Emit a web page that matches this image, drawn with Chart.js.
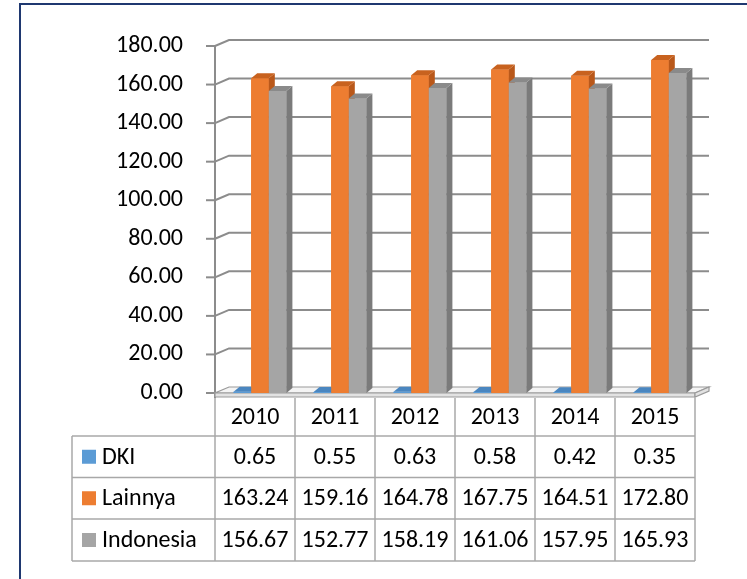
<!DOCTYPE html>
<html lang="id">
<head>
<meta charset="UTF-8">
<title>DKI, Lainnya, Indonesia 2010-2015</title>
<script src="https://cdn.jsdelivr.net/npm/chart.js"></script>
<style>
  html, body { margin: 0; padding: 0; background: #fff; }
  #wrap { position: relative; width: 747px; height: 579px; overflow: hidden; }
  #frame { position: absolute; left: 19px; top: 3px; width: 760px; height: 600px;
           border-top: 2px solid #1f3870; border-left: 2px solid #1f3870; }
  canvas { position: absolute; left: 0; top: 0; }
</style>
</head>
<body>
<div id="wrap">
  <div id="frame"></div>
  <canvas id="myChart" width="747" height="579"></canvas>
</div>

<script>
// data
const tahun = ['2010', '2011', '2012', '2013', '2014', '2015'];
const dki = [0.65, 0.55, 0.63, 0.58, 0.42, 0.35];
const lainnya = [163.24, 159.16, 164.78, 167.75, 164.51, 172.80];
const indonesia = [156.67, 152.77, 158.19, 161.06, 157.95, 165.93];
const namaSeri = ['DKI', 'Lainnya', 'Indonesia'];

const warna = ['#5B9BD5', '#ED7D31', '#A5A5A5'];
const warnaSisi = ['#3E77AD', '#B9581A', '#7B7B7B'];
const warnaAtas = ['#4A86C0', '#C8621F', '#8A8A8A'];

const FONT = "'Carlito', 'Calibri', 'Lato', sans-serif";
const UKURAN = 24;

// kedalaman 3D
const DX = 14, DY = -6;   // dinding belakang
const BX = 6, BY = -5;    // batang
const GESER = 5;          // sisi depan lantai lebih ke kiri dari batang

function poly(ctx, pts) {
  ctx.beginPath();
  ctx.moveTo(pts[0][0], pts[0][1]);
  for (let i = 1; i < pts.length; i++) ctx.lineTo(pts[i][0], pts[i][1]);
  ctx.closePath();
}

const dinding = {
  id: 'dinding',
  beforeDatasetsDraw(chart) {
    const { ctx, chartArea: a, scales: { y } } = chart;
    const kiri = a.left - GESER, kanan = a.right - GESER;
    const y0 = y.getPixelForValue(0);
    ctx.save();
    ctx.strokeStyle = '#8C8C8C';
    ctx.lineWidth = 2;
    // garis grid di dinding belakang + dinding kiri
    y.ticks.forEach(t => {
      const py = y.getPixelForValue(t.value);
      ctx.beginPath();
      ctx.moveTo(kiri - 9, py);
      ctx.lineTo(kiri, py);
      ctx.stroke();
      if (t.value === 0) return;
      ctx.beginPath();
      ctx.moveTo(kiri, py);
      ctx.lineTo(kiri + DX, py + DY);
      ctx.lineTo(kanan + DX, py + DY);
      ctx.stroke();
    });
    // sumbu depan
    ctx.beginPath();
    ctx.moveTo(kiri, y.getPixelForValue(180));
    ctx.lineTo(kiri, y0 + 5);
    ctx.stroke();
    // lantai
    ctx.lineWidth = 1.2;
    ctx.strokeStyle = '#9A9A9A';
    ctx.fillStyle = '#F4F4F4';
    poly(ctx, [[kiri, y0], [kanan, y0], [kanan + DX, y0 + DY], [kiri + DX, y0 + DY]]);
    ctx.fill(); ctx.stroke();
    ctx.fillStyle = '#E2E2E2';
    poly(ctx, [[kiri, y0], [kanan, y0], [kanan, y0 + 4], [kiri, y0 + 4]]);
    ctx.fill(); ctx.stroke();
    poly(ctx, [[kanan, y0], [kanan + DX, y0 + DY], [kanan + DX, y0 + DY + 4], [kanan, y0 + 4]]);
    ctx.fill(); ctx.stroke();
    ctx.restore();
  },
  afterDatasetsDraw(chart) {
    const ctx = chart.ctx;
    ctx.save();
    chart.data.datasets.forEach((ds, i) => {
      chart.getDatasetMeta(i).data.forEach(bar => {
        const { x, y, base, width } = bar.getProps(['x', 'y', 'base', 'width'], true);
        const l = x - width / 2, r = x + width / 2;
        bar.draw(ctx);
        ctx.fillStyle = warnaSisi[i];
        poly(ctx, [[r, y], [r + BX, y + BY], [r + BX, base + BY], [r, base]]);
        ctx.fill();
        ctx.fillStyle = warnaAtas[i];
        poly(ctx, [[l, y], [r, y], [r + BX, y + BY], [l + BX, y + BY]]);
        ctx.fill();
      });
    });
    ctx.restore();
  }
};

// tabel data di bawah grafik
const tabel = {
  id: 'tabel',
  afterDraw(chart) {
    const { ctx, chartArea: a, scales: { x } } = chart;
    const lebar = x.getPixelForValue(1) - x.getPixelForValue(0);
    const kiri = a.left - GESER;
    const kanan = kiri + lebar * tahun.length;
    const kiriTabel = 72;
    const atas = a.bottom + 5;
    const barisY = [atas, 436, 477.5, 519, 561];
    const nilai = [dki, lainnya, indonesia];

    ctx.save();
    ctx.strokeStyle = '#A8A8A8';
    ctx.lineWidth = 1.5;
    // garis horizontal
    for (let r = 1; r < barisY.length; r++) {
      ctx.beginPath();
      ctx.moveTo(kiriTabel, barisY[r]);
      ctx.lineTo(kanan, barisY[r]);
      ctx.stroke();
    }
    // garis vertikal
    ctx.beginPath();
    ctx.moveTo(kiriTabel, barisY[1]);
    ctx.lineTo(kiriTabel, barisY[4]);
    ctx.stroke();
    for (let c = 0; c <= tahun.length; c++) {
      const px = kiri + c * lebar;
      ctx.beginPath();
      ctx.moveTo(px, atas);
      ctx.lineTo(px, barisY[4]);
      ctx.stroke();
    }

    ctx.fillStyle = '#000';
    ctx.font = UKURAN + 'px ' + FONT;
    ctx.textBaseline = 'middle';
    ctx.textAlign = 'center';
    tahun.forEach((t, c) => {
      ctx.fillText(t, kiri + (c + 0.5) * lebar, (barisY[0] + barisY[1]) / 2 + 1);
    });
    nilai.forEach((arr, r) => {
      const cy = (barisY[r + 1] + barisY[r + 2]) / 2 + 1;
      arr.forEach((v, c) => {
        ctx.fillText(v.toFixed(2), kiri + (c + 0.5) * lebar, cy);
      });
    });
    ctx.textAlign = 'left';
    namaSeri.forEach((n, r) => {
      const cy = (barisY[r + 1] + barisY[r + 2]) / 2;
      ctx.fillStyle = warna[r];
      ctx.fillRect(82, cy - 7, 14, 14);
      ctx.fillStyle = '#000';
      ctx.fillText(n, 102, cy + 1);
    });
    ctx.restore();
  }
};

const ctx = document.getElementById('myChart');

new Chart(ctx, {
  type: 'bar',
  data: {
    labels: tahun,
    datasets: [
      { label: namaSeri[0], data: dki, backgroundColor: warna[0] },
      { label: namaSeri[1], data: lainnya, backgroundColor: warna[1] },
      { label: namaSeri[2], data: indonesia, backgroundColor: warna[2] }
    ]
  },
  options: {
    responsive: false,
    animation: false,
    layout: { padding: { top: 46, right: 47, bottom: 186, left: 0 } },
    datasets: { bar: { barPercentage: 1, categoryPercentage: 0.66, borderWidth: 0 } },
    plugins: { legend: { display: false }, tooltip: { enabled: false } },
    scales: {
      x: { display: false },
      y: {
        min: 0,
        max: 180,
        afterFit: s => { s.width = 220; },
        grid: { display: false },
        border: { display: false },
        ticks: {
          stepSize: 20,
          padding: 29,
          color: '#000',
          font: { family: FONT, size: UKURAN },
          callback: v => v.toFixed(2)
        }
      }
    }
  },
  plugins: [dinding, tabel]
});
</script>
</body>
</html>
